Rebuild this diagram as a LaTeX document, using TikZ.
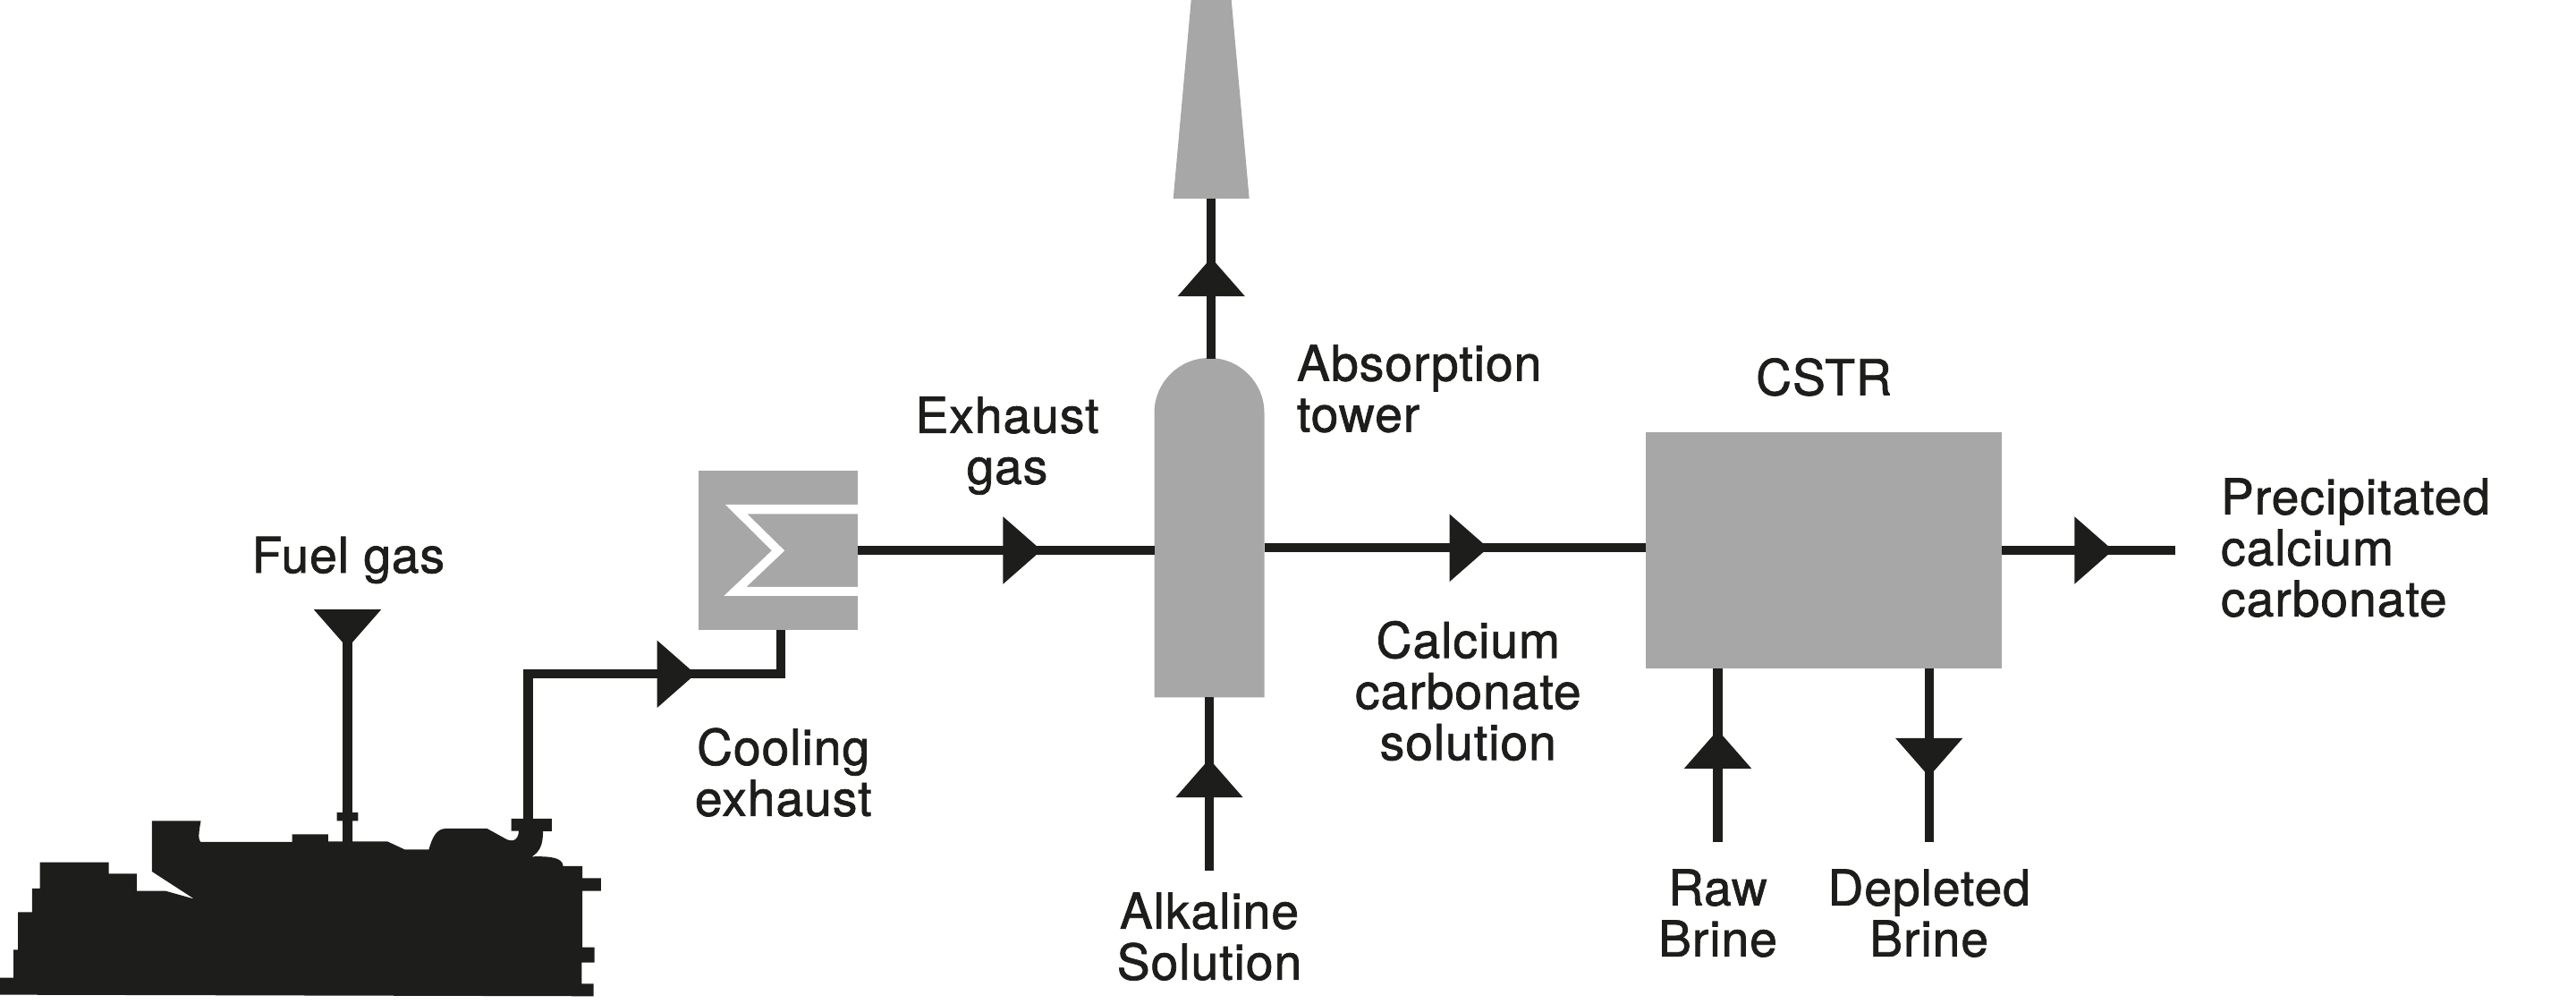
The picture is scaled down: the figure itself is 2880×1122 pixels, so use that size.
\documentclass[tikz,border=0pt]{standalone}
\usepackage{fontspec}
\setmainfont[FakeBold=1.3,LetterSpace=1.8]{TeX Gyre Heros}
\usetikzlibrary{arrows.meta,calc}
\definecolor{ink}{HTML}{1D1D1B}
\definecolor{steel}{HTML}{A7A7A7}
\tikzset{
  px/.style={x=0.25pt,y=-0.25pt},
  pipe/.style={draw=ink,line width=2.55pt,line cap=butt,miter limit=10},
  flow/.style={pipe,shorten >=-1.5pt,-{Triangle[length=10.8pt,width=18.2pt,color=ink]}},
  pipeon/.style={pipe,shorten <=-1.6pt},
  unit/.style={fill=steel,draw=none,inner sep=0pt,outer sep=0pt},
  lbl/.style={text=ink,inner sep=0pt,outer sep=0pt,align=center,anchor=base,yshift=-0.2pt,
    font=\fontsize{13.8}{14.25}\selectfont},
  lbll/.style={lbl,align=left,anchor=base west}
}
\begin{document}
\begin{tikzpicture}[px]
\useasboundingbox (0,0) rectangle (2880,1122);

% units
\node[unit,minimum width=44.58pt,minimum height=44.65pt] (hx) at (869.85,615) {};
\node[unit,minimum width=99.5pt,minimum height=65.75pt] (cstr) at (2039,615) {};
\node[inner sep=0pt,outer sep=0pt,minimum width=30.75pt,minimum height=94.85pt] (tower) at (1352,589.7) {};
\fill[steel] (tower.south west) -- (tower.south east) -- (1413.5,461.5)
  arc[start angle=0,end angle=-180,radius=61.5] -- cycle;
\coordinate (stackb) at (1354.2,222);
\coordinate (stackt) at (1354.2,0);
\fill[steel] (1311.7,222) -- (1396.7,222) -- (1376.7,0) -- (1331.7,0) -- cycle;

% heat-exchanger coil
\begin{scope}[shift={(180pt,-120pt)},x=0.0893pt,y=-0.08333pt]
\fill[white] (255,252) -- (669,252) -- (669,283) -- (323,283) -- (440,406) -- (320,528)
  -- (669,528) -- (669,558) -- (250,558) -- (400,406) -- cycle;
\end{scope}

% engine silhouette
\begin{scope}[shift={(0pt,-162.5pt)},x=0.1148pt,y=-0.08333pt]
\fill[ink] (0,1385) -- (0,1328) -- (33,1328) -- (33,1234) -- (44,1234) -- (44,1108) -- (78,1108)
 -- (78,1029) -- (97,1029) -- (97,941) -- (265,941) -- (265,979) -- (333,979) -- (333,1037)
 -- (403,1037) -- (473,1064) -- (370,972) -- (370,802) -- (489,802)
 .. controls (484,840) and (482,862) .. (488,873) -- (711,873) -- (711,847) -- (799,847)
 -- (799,871) -- (835,871) -- (835,802) -- (820,802) -- (820,774) -- (835,774) -- (858,774)
 -- (872,774) -- (872,802) -- (858,802) -- (858,871) -- (943,871) -- (985,898) -- (1044,898)
 .. controls (1052,860) and (1062,828) .. (1085,828) -- (1186,828) -- (1228,860)
 .. controls (1245,875) and (1262,870) .. (1263,836) -- (1245,836) -- (1245,795) -- (1343,795)
 -- (1343,837) -- (1322,837) .. controls (1322,880) and (1315,905) .. (1295,922)
 .. controls (1340,920) and (1370,925) .. (1371,954) -- (1418,954) -- (1418,994) -- (1463,994)
 -- (1463,1037) -- (1418,1037) -- (1418,1226) -- (1447,1226) -- (1447,1277) -- (1416,1277)
 -- (1416,1348) -- (1445,1348) -- (1445,1390) -- cycle;
\end{scope}
\coordinate (engfuel) at (388.5,941);
\coordinate (engexh) at (590.5,916);

% fuel gas
\coordinate (fuelb) at (388.5,681.7);
\coordinate (fuelt) at (388.5,718.3);
\draw[flow] (fuelb) -- (fuelt);
\draw[pipeon] (fuelt) -- (engfuel);

% engine exhaust to heat exchanger
\coordinate (c1t) at (771.8,753.3);
\draw[flow] (engexh) |- (c1t);
\draw[pipeon] (c1t) -| (hx.south -| 873,0);

% exhaust gas to tower
\coordinate (c2t) at (1158.6,615);
\draw[flow] (hx.east) -- (c2t);
\draw[pipeon] (c2t) -- (tower.west |- c2t);

% tower to stack
\coordinate (towertop) at (1354.2,401);
\coordinate (c3t) at (1354.2,294);
\draw[flow] (towertop) -- (c3t);
\draw[pipeon] (c3t) -- (stackb);

% alkaline solution
\coordinate (alk) at (1352,973);
\coordinate (c4t) at (1352,854);
\draw[flow] (alk) -- (c4t);
\draw[pipeon] (c4t) -- (tower.south);

% tower to CSTR
\coordinate (tw) at (1413.5,612.3);
\coordinate (c5t) at (1657.9,612.3);
\draw[flow] (tw) -- (c5t);
\draw[pipeon] (c5t) -- (c5t -| cstr.west);

% CSTR product
\coordinate (prod) at (2431.5,615);
\coordinate (c6t) at (2356.5,615);
\draw[flow] (cstr.east) -- (c6t);
\draw[pipeon] (c6t) -- (prod);

% raw brine
\coordinate (raw) at (1920.5,940.7);
\coordinate (c7t) at (1920.5,821.7);
\draw[flow] (raw) -- (c7t);
\draw[pipeon] (c7t) -- (c7t |- cstr.south);

% depleted brine
\coordinate (dep) at (2156.7,940.7);
\coordinate (c8t) at (2156.7,862);
\draw[flow] (c8t |- cstr.south) -- (c8t);
\draw[pipeon] (c8t) -- (dep);

% labels
\node[lbl] (tfuel) at (389.4,639.3) {Fuel gas};
\node[lbl] (tcool) at (875.7,911) {Cooling\\exhaust};
\node[lbl] (texh) at (1126,540) {Exhaust\\gas};
\node[lbll] (tabs) at (1450,481.7) {Absorption\\tower};
\node[lbl] (tcstr) at (2039,440.7) {CSTR};
\node[lbl] (tcal) at (1641.3,848.4) {Calcium\\carbonate\\solution};
\node[lbl] (talk) at (1352,1094) {Alkaline\\Solution};
\node[lbl] (traw) at (1920.5,1068) {Raw\\Brine};
\node[lbl] (tdep) at (2156.7,1068) {Depleted\\Brine};
\node[lbll] (tpre) at (2483,688) {Precipitated\\calcium\\carbonate};
\end{tikzpicture}
\end{document}
